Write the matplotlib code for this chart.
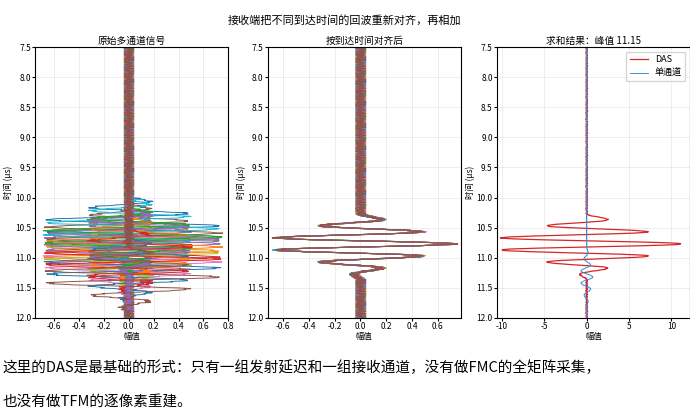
import numpy as np
import matplotlib.pyplot as plt

plt.rcParams['font.family'] = ['Noto Sans CJK SC', 'DejaVu Sans']
plt.rcParams['axes.unicode_minus'] = False

# aligned echo: extremum times (us, relative to 10.77) and amplitudes
peak_t = [-0.50, -0.40, -0.30, -0.20, -0.10, 0.0, 0.10, 0.20, 0.30, 0.40, 0.50, 0.60]
peak_a = [0.0, 0.16, -0.30, 0.47, -0.65, 0.72, -0.65, 0.47, -0.30, 0.16, -0.05, 0.0]
echo_t0 = 10.77
das_gain = 15.5

# arrival delays of the 16 receive channels (us)
delays = [-0.30, 0.12, -0.10, 0.22, 0.00, -0.18, 0.30, -0.05,
          0.15, -0.25, 0.40, 0.05, -0.12, 0.25, -0.08, 0.55]

# hand-typed noise pattern, reused per channel with a shift
noise_pat = [0.02, -0.04, 0.05, -0.01, 0.03, -0.05, 0.01, 0.04, -0.03, 0.02,
             -0.02, 0.05, -0.04, 0.00, 0.03, -0.03, 0.06, -0.02, 0.01, -0.05,
             0.04, -0.01, 0.02, -0.04, 0.03, 0.05, -0.03, 0.01, -0.02, 0.04,
             -0.05, 0.02, 0.00, -0.03, 0.05, -0.01, 0.03]

t = np.arange(7.5, 12.0001, 0.005)


def pulse(tt, shift):
    # half-cosine segments between the read extrema
    x = tt - echo_t0 - shift
    y = np.zeros_like(x)
    for i in range(len(peak_t) - 1):
        a, b = peak_t[i], peak_t[i + 1]
        m = (x >= a) & (x < b)
        f = (1 - np.cos(np.pi * (x[m] - a) / (b - a))) / 2
        y[m] = peak_a[i] + (peak_a[i + 1] - peak_a[i]) * f
    return y


def noise(k, scale=0.7):
    base = np.array(noise_pat)
    idx = (np.arange(len(t)) // 2 + k * 7) % len(base)
    return base[idx] * scale


raw = [pulse(t, d) + noise(k) for k, d in enumerate(delays)]
aligned = [pulse(t, 0) + noise(k) for k in range(len(delays))]
das = das_gain * pulse(t, 0) + noise(3, 2.0)

fig = plt.figure(figsize=(6.9, 4.2), dpi=100)
axs = [fig.add_axes([0.051, 0.243, 0.28, 0.645]),
       fig.add_axes([0.388, 0.243, 0.28, 0.645]),
       fig.add_axes([0.72, 0.243, 0.28, 0.645])]

for y in raw:
    axs[0].plot(y, t, lw=0.7)
for y in aligned:
    axs[1].plot(y, t, lw=0.7)
axs[2].plot(das, t, color='#d62728', lw=0.9, label='DAS')
axs[2].plot(raw[-1], t, color='#3a8fd9', lw=0.7, label='单通道')
axs[2].legend(loc='upper right', fontsize=6.5)

titles = ['原始多通道信号', '按到达时间对齐后', '求和结果：峰值 11.15']
xlims = [(-0.75, 0.8), (-0.72, 0.78), (-10.6, 12.2)]
for ax, ti, xl in zip(axs, titles, xlims):
    ax.set_ylim(12.0, 7.5)
    ax.set_xlim(*xl)
    ax.set_title(ti, fontsize=7, pad=2)
    ax.set_xlabel('幅值', fontsize=6, labelpad=1)
    ax.set_ylabel('时间 (μs)', fontsize=6, labelpad=1)
    ax.tick_params(labelsize=6, length=2, pad=1)
    ax.grid(alpha=0.3, lw=0.5)
axs[0].set_xticks([-0.6, -0.4, -0.2, 0.0, 0.2, 0.4, 0.6, 0.8])
axs[1].set_xticks([-0.6, -0.4, -0.2, 0.0, 0.2, 0.4, 0.6])
axs[2].set_xticks([-10, -5, 0, 5, 10])

fig.text(0.5, 0.943, '接收端把不同到达时间的回波重新对齐，再相加', ha='center', fontsize=8)
fig.text(0.003, 0.115, '这里的DAS是最基础的形式：只有一组发射延迟和一组接收通道，没有做FMC的全矩阵采集，',
         fontsize=10.5)
fig.text(0.003, 0.035, '也没有做TFM的逐像素重建。', fontsize=10.5)

fig.savefig('out.png', dpi=100)
